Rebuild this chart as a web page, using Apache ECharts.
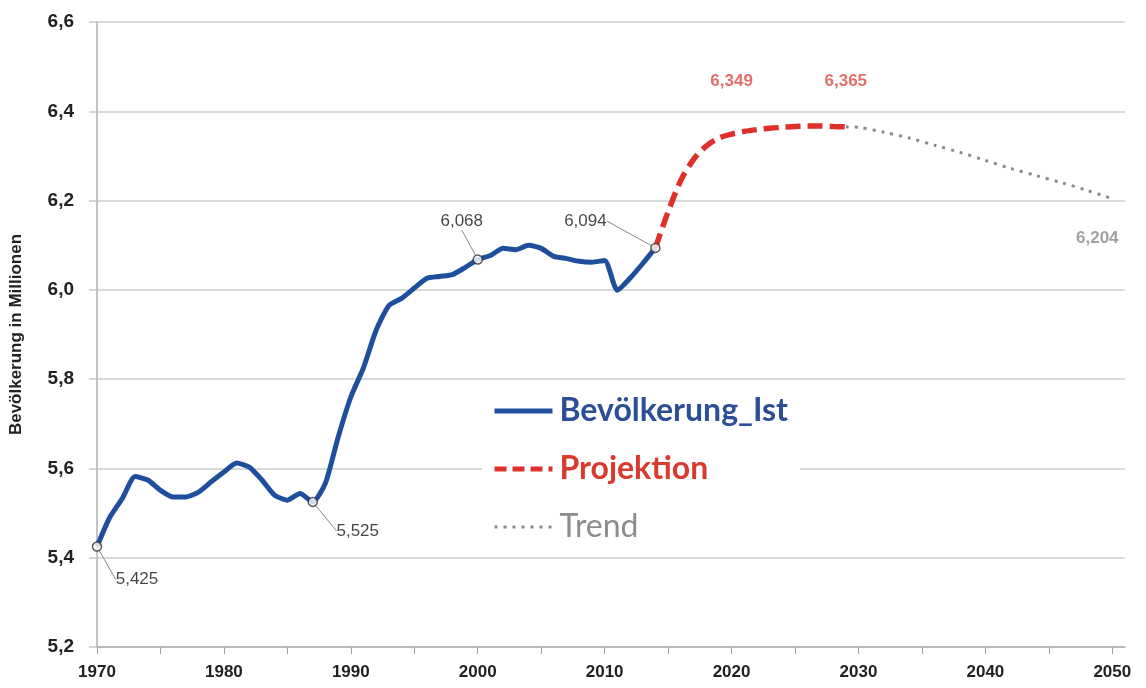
<!DOCTYPE html>
<html>
<head>
<meta charset="utf-8">
<script src="https://cdn.jsdelivr.net/npm/echarts@6/dist/echarts.min.js"></script>
<style>
  html, body { margin: 0; padding: 0; background: #fff; }
  #chart { width: 1146px; height: 688px; }
</style>
</head>
<body>
<div id="chart"></div>
<script>
// === DATA ===
const istYears = [
    1970, 1971, 1972, 1973, 1974, 1975, 1976, 1977, 1978, 1979,
    1980, 1981, 1982, 1983, 1984, 1985, 1986, 1987, 1988, 1989,
    1990, 1991, 1992, 1993, 1994, 1995, 1996, 1997, 1998, 1999,
    2000, 2001, 2002, 2003, 2004, 2005, 2006, 2007, 2008, 2009,
    2010, 2011, 2012, 2013, 2014,
];
const istValues = [
    5.425, 5.49, 5.533, 5.582, 5.574, 5.551, 5.536, 5.536, 5.547, 5.57,
    5.592, 5.612, 5.603, 5.574, 5.54, 5.529, 5.544, 5.525, 5.567, 5.67,
    5.76, 5.826, 5.91, 5.965, 5.981, 6.004, 6.026, 6.03, 6.034, 6.05,
    6.068, 6.077, 6.093, 6.09, 6.1, 6.093, 6.075, 6.07, 6.064, 6.062,
    6.066, 5.999, 6.026, 6.059, 6.094,
];

const projYears = [
    2014, 2015, 2016, 2017, 2018, 2019, 2020, 2021,
    2022, 2023, 2024, 2025, 2026, 2027, 2028, 2029,
];
const projValues = [
    6.094, 6.175, 6.245, 6.292, 6.322, 6.34, 6.349, 6.355,
    6.359, 6.362, 6.364, 6.366, 6.367, 6.367, 6.366, 6.365,
];

const trendYears = [2029, 2030, 2032, 2034, 2036, 2038, 2040, 2042, 2044, 2046, 2048, 2050];
const trendValues = [6.365, 6.364, 6.353, 6.34, 6.324, 6.308, 6.29, 6.272, 6.256, 6.24, 6.223, 6.204];

// years that get a value label
const markedIstYears = [1970, 1987, 2000, 2014];
const markedProjYears = [2020, 2029];
const markedTrendYears = [2050];

const yTicks = [5.2, 5.4, 5.6, 5.8, 6.0, 6.2, 6.4, 6.6];

const seriesNames = ["Bevölkerung_Ist", "Projektion", "Trend"];

// === HELPERS ===
const zip = (xs, ys) => xs.map((x, i) => [x, ys[i]]);
const pick = (xs, ys, wanted) => wanted.map((y) => [y, ys[xs.indexOf(y)]]);
const deNum = (v, d) => v.toFixed(d).replace(".", ",");

const BLUE = "#1f4f9c";
const RED = "#e0302a";
const GREY = "#8a8a8a";

// label centre offsets from the circled points (leader lines drawn by echarts)
const istLabelOffsets = [
    { dx: 40, dy: 33 },
    { dx: 45, dy: 29 },
    { dx: -16, dy: -38 },
    { dx: -70, dy: -27 },
];
const projLabelOffsets = [{ dy: -53 }, { dy: -46 }];

const chart = echarts.init(document.getElementById("chart"));

const option = {
    animation: false,
    backgroundColor: "#fff",
    grid: { left: 96, right: 21, top: 22, bottom: 41 },
    xAxis: {
        type: "value",
        min: 1970,
        max: 2051,
        interval: 5,
        axisLine: { lineStyle: { color: "#b0b0b0", width: 1.5 } },
        axisTick: { length: 7, lineStyle: { color: "#a0a0a0" } },
        axisLabel: {
            margin: 17,
            fontFamily: "Liberation Sans",
            fontWeight: "bold",
            fontSize: 17,
            color: "#222",
            showMaxLabel: false,
            formatter: (v) => (v % 10 === 0 ? String(v) : ""),
        },
        splitLine: { show: false },
    },
    yAxis: {
        type: "value",
        min: yTicks[0],
        max: yTicks[yTicks.length - 1],
        interval: 0.2,
        name: "Bevölkerung in Millionen",
        nameLocation: "middle",
        nameGap: 72,
        nameTextStyle: {
            fontFamily: "Liberation Sans",
            fontWeight: "bold",
            fontSize: 17,
            color: "#222",
        },
        axisLine: { show: true, lineStyle: { color: "#b0b0b0", width: 1.5 } },
        axisTick: { show: true, length: 8, lineStyle: { color: "#c8c8c8", width: 1.5 } },
        axisLabel: {
            margin: 23,
            fontFamily: "Liberation Sans",
            fontWeight: "bold",
            fontSize: 19,
            color: "#222",
            formatter: (v) => deNum(v, 1),
        },
        splitLine: { lineStyle: { color: "#cdcdcd", width: 1.5 } },
    },
    legend: {
        data: [
            {
                name: seriesNames[0],
                textStyle: { color: "#2a4f96", fontWeight: "bold" },
                lineStyle: { width: 5 },
            },
            {
                name: seriesNames[1],
                textStyle: { color: "#d93a2e", fontWeight: "bold" },
                lineStyle: { width: 5, type: [12, 6] },
            },
            {
                name: seriesNames[2],
                textStyle: { color: "#8c8c8c", fontWeight: "normal" },
                lineStyle: { width: 3, type: [3, 6] },
            },
        ],
        orient: "vertical",
        left: 482,
        top: 387,
        padding: [8, 12, 10, 10],
        backgroundColor: "#fff",
        itemWidth: 58,
        itemHeight: 14,
        itemGap: 26,
        itemStyle: { opacity: 0 },
        textStyle: {
            fontFamily: "Lato",
            fontSize: 32,
            lineHeight: 31,
            padding: [0, 0, 0, 2],
        },
    },
    series: [
        {
            name: seriesNames[0],
            type: "line",
            data: zip(istYears, istValues),
            smooth: 0.2,
            symbol: "none",
            lineStyle: { color: BLUE, width: 5 },
            itemStyle: { color: BLUE },
            z: 3,
        },
        {
            name: seriesNames[1],
            type: "line",
            data: zip(projYears, projValues),
            smooth: 0.3,
            symbol: "none",
            lineStyle: { color: RED, width: 5.5, type: [15, 7] },
            itemStyle: { color: RED },
            z: 3,
        },
        {
            name: seriesNames[2],
            type: "line",
            data: zip(trendYears, trendValues),
            smooth: 0.3,
            symbol: "none",
            lineStyle: { color: GREY, width: 3, type: [3, 6] },
            itemStyle: { color: GREY },
            z: 2,
        },
        {
            // circled points with leader-line labels
            name: "ist-marks",
            type: "scatter",
            data: pick(istYears, istValues, markedIstYears),
            symbol: "circle",
            symbolSize: 9,
            itemStyle: { color: "#fff", borderColor: "#333", borderWidth: 1.5 },
            label: {
                show: true,
                position: "inside",
                fontFamily: "Liberation Sans",
                fontSize: 17,
                color: "#151515",
                formatter: (p) => deNum(p.value[1], 3),
            },
            labelLayout: (params) => istLabelOffsets[params.dataIndex],
            labelLine: { show: true, lineStyle: { color: "#888", width: 1 } },
            z: 5,
        },
        {
            name: "proj-labels",
            type: "scatter",
            data: pick(projYears, projValues, markedProjYears),
            symbolSize: 0,
            label: {
                show: true,
                position: "inside",
                fontFamily: "Liberation Sans",
                fontWeight: "bold",
                fontSize: 17,
                color: "#df4a45",
                formatter: (p) => deNum(p.value[1], 3),
            },
            labelLayout: (params) => projLabelOffsets[params.dataIndex],
        },
        {
            name: "trend-label",
            type: "scatter",
            data: pick(trendYears, trendValues, markedTrendYears),
            symbolSize: 0,
            label: {
                show: true,
                position: "inside",
                fontFamily: "Liberation Sans",
                fontWeight: "bold",
                fontSize: 17,
                color: "#8a8a8a",
                formatter: (p) => deNum(p.value[1], 3),
            },
            labelLayout: () => ({ dx: -15, dy: 40 }),
        },
    ],
};

chart.setOption(option);
</script>
</body>
</html>
